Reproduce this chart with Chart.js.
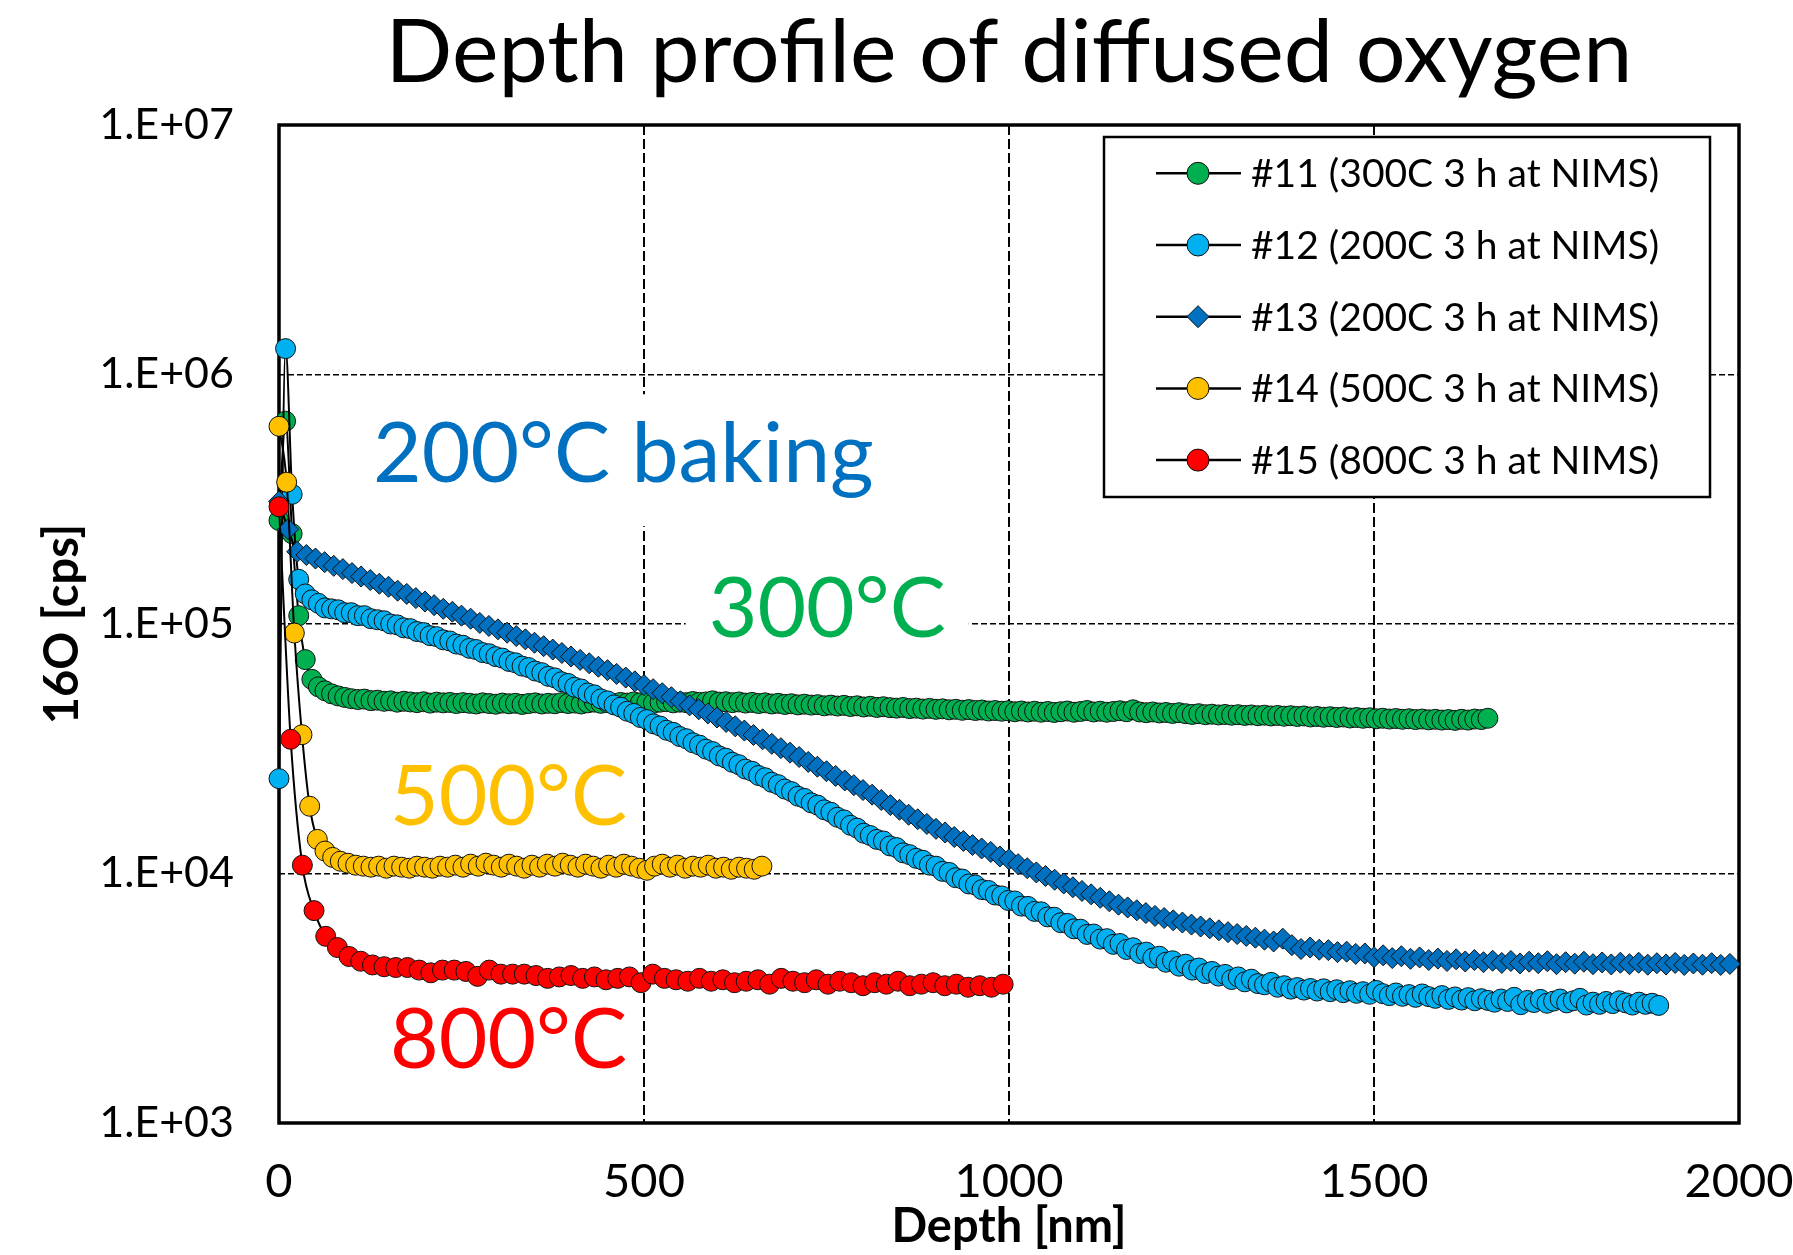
<!DOCTYPE html>
<html lang="en">
<head>
<meta charset="utf-8">
<title>Depth profile of diffused oxygen</title>
<script src="https://cdn.jsdelivr.net/npm/chart.js@4.4.1/dist/chart.umd.min.js"></script>
<style>
  html, body { margin: 0; padding: 0; background: #ffffff; }
  #box { width: 1793px; height: 1255px; }
</style>
</head>
<body>
<div id="box"><canvas id="chart" width="1793" height="1255"></canvas></div>
<script>
// ---------------- data ----------------
const chartTitle = 'Depth profile of diffused oxygen';
const xAxisTitle = 'Depth [nm]';
const yAxisTitle = '16O [cps]';

const seriesLabels = [
  '#11 (300C 3 h at NIMS)',
  '#12 (200C 3 h at NIMS)',
  '#13 (200C 3 h at NIMS)',
  '#14 (500C 3 h at NIMS)',
  '#15 (800C 3 h at NIMS)'
];

const noteTexts = ['200°C baking', '300°C', '500°C', '800°C'];

const xTickValues = [0, 500, 1000, 1500, 2000];
const xTickLabels = ['0', '500', '1000', '1500', '2000'];
const yTickValues = [1e3, 1e4, 1e5, 1e6, 1e7];
const yTickLabels = ['1.E+03', '1.E+04', '1.E+05', '1.E+06', '1.E+07'];

// depth grid [nm] shared by samples #11 and #12
const depthGrid9 = [
  0,9,18,27,36,45,54,63,72,81,
  90,99,108,117,126,135,144,153,162,171,
  180,189,198,207,216,225,234,243,252,261,
  270,279,288,297,306,315,324,333,342,351,
  360,369,378,387,396,405,414,423,432,441,
  450,459,468,477,486,495,504,513,522,531,
  540,549,558,567,576,585,594,603,612,621,
  630,639,648,657,666,675,684,693,702,711,
  720,729,738,747,756,765,774,783,792,801,
  810,819,828,837,846,855,864,873,882,891,
  900,909,918,927,936,945,954,963,972,981,
  990,999,1008,1017,1026,1035,1044,1053,1062,1071,
  1080,1089,1098,1107,1116,1125,1134,1143,1152,1161,
  1170,1179,1188,1197,1206,1215,1224,1233,1242,1251,
  1260,1269,1278,1287,1296,1305,1314,1323,1332,1341,
  1350,1359,1368,1377,1386,1395,1404,1413,1422,1431,
  1440,1449,1458,1467,1476,1485,1494,1503,1512,1521,
  1530,1539,1548,1557,1566,1575,1584,1593,1602,1611,
  1620,1629,1638,1647,1656,1665,1674,1683,1692,1701,
  1710,1719,1728,1737,1746,1755,1764,1773,1782,1791,
  1800,1809,1818,1827,1836,1845,1854,1863,1872,1881,
  1890
];

// #11 (300C) 16O counts [cps]
const o16Sample11 = [
  2.6e5,6.5e5,2.3e5,1.08e5,7.2e4,6.0e4,5.6e4,5.4e4,5.25e4,5.15e4,
  5.08e4,5.02e4,4.98e4,5.0e4,4.93e4,4.95e4,4.9e4,4.92e4,4.86e4,4.9e4,
  4.87e4,4.84e4,4.88e4,4.82e4,4.86e4,4.83e4,4.85e4,4.8e4,4.84e4,4.81e4,
  4.78e4,4.83e4,4.8e4,4.77e4,4.82e4,4.79e4,4.81e4,4.76e4,4.8e4,4.83e4,
  4.78e4,4.81e4,4.79e4,4.84e4,4.8e4,4.82e4,4.78e4,4.83e4,4.86e4,4.81e4,
  4.84e4,4.8e4,4.85e4,4.82e4,4.87e4,4.83e4,4.85e4,4.81e4,4.86e4,4.88e4,
  4.83e4,4.86e4,4.84e4,4.89e4,4.85e4,4.87e4,4.92e4,4.86e4,4.88e4,4.84e4,
  4.87e4,4.82e4,4.85e4,4.8e4,4.83e4,4.78e4,4.81e4,4.76e4,4.79e4,4.74e4,
  4.77e4,4.73e4,4.75e4,4.7e4,4.73e4,4.69e4,4.72e4,4.67e4,4.7e4,4.65e4,
  4.68e4,4.63e4,4.66e4,4.62e4,4.6e4,4.63e4,4.58e4,4.6e4,4.56e4,4.59e4,
  4.55e4,4.57e4,4.53e4,4.55e4,4.51e4,4.54e4,4.5e4,4.52e4,4.48e4,4.5e4,
  4.47e4,4.49e4,4.45e4,4.48e4,4.44e4,4.47e4,4.43e4,4.46e4,4.42e4,4.45e4,
  4.48e4,4.43e4,4.46e4,4.5e4,4.44e4,4.47e4,4.43e4,4.46e4,4.49e4,4.45e4,
  4.53e4,4.44e4,4.41e4,4.44e4,4.4e4,4.42e4,4.38e4,4.41e4,4.37e4,4.34e4,
  4.37e4,4.33e4,4.35e4,4.32e4,4.34e4,4.31e4,4.33e4,4.3e4,4.32e4,4.29e4,
  4.31e4,4.28e4,4.3e4,4.27e4,4.29e4,4.26e4,4.28e4,4.24e4,4.26e4,4.23e4,
  4.25e4,4.22e4,4.24e4,4.2e4,4.22e4,4.19e4,4.21e4,4.17e4,4.19e4,4.16e4,
  4.18e4,4.15e4,4.17e4,4.14e4,4.16e4,4.13e4,4.15e4,4.12e4,4.14e4,4.11e4,
  4.15e4,4.12e4,4.16e4,4.14e4,4.19e4
];

// #12 (200C) 16O counts [cps]
const o16Sample12 = [
  2.40e4,1.27e6,3.31e5,1.51e5,1.32e5,1.25e5,1.21e5,1.16e5,1.15e5,1.14e5,
  1.11e5,1.11e5,1.08e5,1.08e5,1.05e5,1.04e5,1.03e5,1.00e5,9.92e4,9.65e4,
  9.58e4,9.33e4,9.24e4,8.98e4,8.90e4,8.64e4,8.55e4,8.31e4,8.22e4,7.99e4,
  7.90e4,7.68e4,7.60e4,7.40e4,7.30e4,7.08e4,6.99e4,6.78e4,6.69e4,6.48e4,
  6.38e4,6.17e4,6.08e4,5.87e4,5.78e4,5.58e4,5.49e4,5.29e4,5.20e4,5.01e4,
  4.92e4,4.74e4,4.64e4,4.47e4,4.38e4,4.22e4,4.14e4,3.98e4,3.90e4,3.75e4,
  3.68e4,3.54e4,3.47e4,3.34e4,3.27e4,3.15e4,3.08e4,2.96e4,2.90e4,2.79e4,
  2.73e4,2.62e4,2.57e4,2.47e4,2.42e4,2.32e4,2.27e4,2.18e4,2.13e4,2.04e4,
  2.00e4,1.92e4,1.88e4,1.80e4,1.76e4,1.68e4,1.64e4,1.56e4,1.52e4,1.45e4,
  1.42e4,1.37e4,1.35e4,1.29e4,1.27e4,1.21e4,1.19e4,1.15e4,1.13e4,1.08e4,
  1.07e4,1.02e4,1.01e4,9.62e3,9.50e3,9.08e3,8.99e3,8.62e3,8.55e3,8.20e3,
  8.13e3,7.80e3,7.76e3,7.40e3,7.38e3,7.05e3,7.02e3,6.70e3,6.68e3,6.35e3,
  6.31e3,6.00e3,5.98e3,5.70e3,5.72e3,5.46e3,5.48e3,5.20e3,5.24e3,4.96e3,
  5.04e3,4.78e3,4.84e3,4.58e3,4.66e3,4.41e3,4.47e3,4.25e3,4.33e3,4.10e3,
  4.18e3,3.97e3,4.05e3,3.88e3,3.94e3,3.76e3,3.85e3,3.68e3,3.77e3,3.62e3,
  3.58e3,3.66e3,3.50e3,3.55e3,3.44e3,3.49e3,3.41e3,3.46e3,3.38e3,3.45e3,
  3.36e3,3.42e3,3.33e3,3.39e3,3.31e3,3.36e3,3.28e3,3.40e3,3.30e3,3.24e3,
  3.32e3,3.22e3,3.27e3,3.19e3,3.29e3,3.21e3,3.16e3,3.24e3,3.13e3,3.20e3,
  3.11e3,3.18e3,3.09e3,3.15e3,3.10e3,3.05e3,3.14e3,3.07e3,3.19e3,2.98e3,
  3.10e3,3.04e3,3.13e3,3.02e3,3.08e3,3.14e3,3.03e3,3.09e3,3.16e3,2.97e3,
  3.05e3,2.99e3,3.07e3,3.01e3,3.09e3,3.03e3,2.97e3,3.05e3,2.99e3,3.02e3,
  2.96e3
];

// #13 (200C) depth [nm] and 16O counts [cps]
const depthSample13 = [
  0,12.5,25,37.5,50,62.5,75,87.5,
  100,112.5,125,137.5,150,162.5,175,187.5,
  200,212.5,225,237.5,250,262.5,275,287.5,
  300,312.5,325,337.5,350,362.5,375,387.5,
  400,412.5,425,437.5,450,462.5,475,487.5,
  500,512.5,525,537.5,550,562.5,575,587.5,
  600,612.5,625,637.5,650,662.5,675,687.5,
  700,712.5,725,737.5,750,762.5,775,787.5,
  800,812.5,825,837.5,850,862.5,875,887.5,
  900,912.5,925,937.5,950,962.5,975,987.5,
  1000,1012.5,1025,1037.5,1050,1062.5,1075,1087.5,
  1100,1112.5,1125,1137.5,1150,1162.5,1175,1187.5,
  1200,1212.5,1225,1237.5,1250,1262.5,1275,1287.5,
  1300,1312.5,1325,1337.5,1350,1362.5,1375,1387.5,
  1400,1412.5,1425,1437.5,1450,1462.5,1475,1487.5,
  1500,1512.5,1525,1537.5,1550,1562.5,1575,1587.5,
  1600,1612.5,1625,1637.5,1650,1662.5,1675,1687.5,
  1700,1712.5,1725,1737.5,1750,1762.5,1775,1787.5,
  1800,1812.5,1825,1837.5,1850,1862.5,1875,1887.5,
  1900,1912.5,1925,1937.5,1950,1962.5,1975,1987.5
];
const o16Sample13 = [
  3.1e5,2.4e5,1.95e5,1.89e5,1.83e5,1.77e5,1.71e5,1.66e5,
  1.60e5,1.55e5,1.50e5,1.45e5,1.41e5,1.36e5,1.32e5,1.27e5,
  1.23e5,1.19e5,1.15e5,1.12e5,1.08e5,1.05e5,1.01e5,9.82e4,
  9.52e4,9.23e4,8.95e4,8.68e4,8.41e4,8.15e4,7.90e4,7.65e4,
  7.41e4,7.18e4,6.96e4,6.74e4,6.53e4,6.31e4,6.10e4,5.89e4,
  5.69e4,5.48e4,5.28e4,5.09e4,4.90e4,4.72e4,4.55e4,4.38e4,
  4.22e4,4.05e4,3.89e4,3.74e4,3.59e4,3.45e4,3.31e4,3.18e4,
  3.05e4,2.93e4,2.80e4,2.68e4,2.57e4,2.46e4,2.36e4,2.26e4,
  2.16e4,2.07e4,1.97e4,1.88e4,1.80e4,1.72e4,1.65e4,1.58e4,
  1.51e4,1.46e4,1.40e4,1.35e4,1.30e4,1.26e4,1.22e4,1.17e4,
  1.14e4,1.09e4,1.05e4,1.01e4,9.77e3,9.44e3,9.12e3,8.81e3,
  8.51e3,8.25e3,7.99e3,7.74e3,7.50e3,7.31e3,7.12e3,6.94e3,
  6.76e3,6.63e3,6.49e3,6.36e3,6.24e3,6.13e3,6.03e3,5.92e3,
  5.82e3,5.72e3,5.62e3,5.53e3,5.43e3,5.34e3,5.48e3,5.16e3,
  4.98e3,5.05e3,4.95e3,4.93e3,4.84e3,4.86e3,4.76e3,4.78e3,
  4.62e3,4.70e3,4.58e3,4.66e3,4.55e3,4.61e3,4.50e3,4.56e3,
  4.46e3,4.53e3,4.44e3,4.50e3,4.41e3,4.47e3,4.38e3,4.46e3,
  4.36e3,4.43e3,4.37e3,4.45e3,4.33e3,4.41e3,4.35e3,4.43e3,
  4.33e3,4.40e3,4.32e3,4.39e3,4.33e3,4.39e3,4.31e3,4.37e3,
  4.32e3,4.38e3,4.30e3,4.36e3,4.31e3,4.37e3,4.30e3,4.34e3
];

// #14 (500C) depth [nm] and 16O counts [cps]
const depthSample14 = [
  0,10.5,21,31.5,42,52.5,63,73.5,84,94.5,105,
  115.5,126,136.5,147,157.5,168,178.5,189,199.5,210,
  220.5,231,241.5,252,262.5,273,283.5,294,304.5,315,
  325.5,336,346.5,357,367.5,378,388.5,399,409.5,420,
  430.5,441,451.5,462,472.5,483,493.5,504,514.5,525,
  535.5,546,556.5,567,577.5,588,598.5,609,619.5,630,
  640.5,651,661.5
];
const o16Sample14 = [
  6.2e5,3.7e5,9.2e4,3.6e4,1.86e4,1.37e4,1.23e4,1.16e4,1.12e4,1.10e4,1.08e4,
  1.07e4,1.06e4,1.07e4,1.05e4,1.07e4,1.06e4,1.05e4,1.07e4,1.06e4,1.05e4,
  1.07e4,1.06e4,1.08e4,1.06e4,1.09e4,1.07e4,1.10e4,1.08e4,1.06e4,1.09e4,
  1.07e4,1.05e4,1.08e4,1.06e4,1.09e4,1.07e4,1.10e4,1.08e4,1.06e4,1.09e4,
  1.07e4,1.05e4,1.08e4,1.06e4,1.09e4,1.07e4,1.05e4,1.03e4,1.07e4,1.09e4,
  1.06e4,1.08e4,1.05e4,1.07e4,1.06e4,1.08e4,1.05e4,1.06e4,1.04e4,1.06e4,
  1.05e4,1.04e4,1.07e4
];

// #15 (800C) depth [nm] and 16O counts [cps]
const depthSample15 = [
  0,16,32,48,64,80,96,112,128,144,160,176,192,208,224,240,256,272,288,304,320,336,
  352,368,384,400,416,432,448,464,480,496,512,528,544,560,576,592,608,624,640,656,
  672,688,704,720,736,752,768,784,800,816,832,848,864,880,896,912,928,944,960,976,992
];
const o16Sample15 = [
  2.95e5,3.45e4,1.08e4,7.1e3,5.6e3,5.05e3,4.65e3,4.45e3,4.3e3,4.23e3,4.2e3,
  4.2e3,4.1e3,4.0e3,4.1e3,4.1e3,4.05e3,3.87e3,4.1e3,3.95e3,3.95e3,3.95e3,
  3.9e3,3.8e3,3.85e3,3.9e3,3.8e3,3.85e3,3.75e3,3.8e3,3.85e3,3.65e3,
  3.95e3,3.8e3,3.75e3,3.7e3,3.8e3,3.7e3,3.75e3,3.65e3,3.7e3,3.75e3,
  3.6e3,3.8e3,3.7e3,3.65e3,3.75e3,3.6e3,3.7e3,3.65e3,3.55e3,3.65e3,
  3.6e3,3.7e3,3.55e3,3.6e3,3.65e3,3.55e3,3.6e3,3.5e3,3.55e3,3.5e3,
  3.6e3
];

// ---------------- presentation ----------------
const FONT = 'Lato, "Open Sans", sans-serif';

function toPoints(depths, values) {
  return values.map((v, i) => ({ x: depths[i], y: v }));
}

const seriesData = [
  toPoints(depthGrid9, o16Sample11),
  toPoints(depthGrid9, o16Sample12),
  toPoints(depthSample13, o16Sample13),
  toPoints(depthSample14, o16Sample14),
  toPoints(depthSample15, o16Sample15)
];

const seriesLook = [
  { fill: '#00B050', shape: 'circle' },
  { fill: '#00B0F0', shape: 'circle' },
  { fill: '#0070C0', shape: 'rectRot' },
  { fill: '#FFC000', shape: 'circle' },
  { fill: '#FF0000', shape: 'circle' }
];

const MARKER_R = 10;

const datasets = seriesLabels.map((label, i) => ({
  label,
  data: seriesData[i],
  showLine: true,
  borderColor: '#000000',
  borderWidth: 2,
  tension: 0.3,
  cubicInterpolationMode: 'monotone',
  pointStyle: seriesLook[i].shape,
  pointRadius: seriesLook[i].shape === 'rectRot' ? MARKER_R + 0.5 : MARKER_R,
  pointBackgroundColor: seriesLook[i].fill,
  pointBorderColor: '#111111',
  pointBorderWidth: 1,
  order: seriesLabels.length - i,   // later samples are painted on top
  clip: false
}));

// call-out texts: anchored at the left end of their baseline, in data units
const noteLayout = [
  { depth: 128.7, value: 3.70e5, color: '#0070C0', size: 84, box: true },
  { depth: 588.6, value: 8.87e4, color: '#00B050', size: 84, box: true },
  { depth: 152,   value: 1.567e4, color: '#FFC000', size: 84, box: false },
  { depth: 152,   value: 1.667e3, color: '#FF0000', size: 84, box: false }
];

function drawMarker(ctx, shape, x, y, r) {
  ctx.beginPath();
  if (shape === 'rectRot') {
    ctx.moveTo(x, y - r);
    ctx.lineTo(x + r, y);
    ctx.lineTo(x, y + r);
    ctx.lineTo(x - r, y);
    ctx.closePath();
  } else {
    ctx.arc(x, y, r, 0, Math.PI * 2);
  }
  ctx.fill();
  ctx.stroke();
}

const decorations = {
  id: 'decorations',
  beforeDatasetsDraw(chart) {
    const { ctx, chartArea: a, scales } = chart;
    ctx.save();
    // call-out labels sit on white boxes that interrupt the grid
    noteLayout.forEach((n, i) => {
      const text = noteTexts[i];
      ctx.font = `${n.size}px ${FONT}`;
      const w = ctx.measureText(text).width;
      const x = scales.x.getPixelForValue(n.depth);
      const y = scales.y.getPixelForValue(n.value);
      if (n.box) {
        ctx.fillStyle = '#ffffff';
        ctx.fillRect(x - 23, y - 88, w + 46, 132);
      }
      ctx.fillStyle = n.color;
      ctx.textAlign = 'left';
      ctx.textBaseline = 'alphabetic';
      ctx.fillText(text, x, y);
    });
    // plot frame
    ctx.lineWidth = 3.5;
    ctx.strokeStyle = '#000000';
    ctx.strokeRect(a.left, a.top, a.right - a.left, a.bottom - a.top);
    ctx.restore();
  },
  afterDraw(chart) {
    const { ctx, chartArea: a } = chart;
    const cx = (a.left + a.right) / 2;
    ctx.save();
    ctx.fillStyle = '#000000';

    // chart title
    ctx.font = `88px ${FONT}`;
    ctx.textAlign = 'center';
    ctx.textBaseline = 'alphabetic';
    ctx.fillText(chartTitle, cx, 82);

    // axis titles
    ctx.font = `bold 47px ${FONT}`;
    ctx.fillText(xAxisTitle, cx, 1242);
    ctx.save();
    ctx.translate(63, (a.top + a.bottom) / 2);
    ctx.rotate(-Math.PI / 2);
    ctx.textBaseline = 'middle';
    ctx.fillText(yAxisTitle, 0, 0);
    ctx.restore();

    // legend box
    const L = { left: a.right - 635, top: a.top + 12, width: 606, height: 360 };
    ctx.fillStyle = '#ffffff';
    ctx.fillRect(L.left, L.top, L.width, L.height);
    ctx.lineWidth = 2.5;
    ctx.strokeStyle = '#000000';
    ctx.strokeRect(L.left, L.top, L.width, L.height);

    ctx.font = `39px ${FONT}`;
    ctx.textAlign = 'left';
    ctx.textBaseline = 'alphabetic';
    seriesLabels.forEach((label, i) => {
      const y = L.top + 36.3 + i * 71.7;
      ctx.strokeStyle = '#000000';
      ctx.lineWidth = 2.5;
      ctx.beginPath();
      ctx.moveTo(L.left + 52, y);
      ctx.lineTo(L.left + 137, y);
      ctx.stroke();
      ctx.fillStyle = seriesLook[i].fill;
      ctx.strokeStyle = '#111111';
      ctx.lineWidth = 1;
      drawMarker(ctx, seriesLook[i].shape, L.left + 94, y, 11);
      ctx.fillStyle = '#000000';
      ctx.fillText(label, L.left + 147, y + 14);
    });
    ctx.restore();
  }
};

new Chart(document.getElementById('chart'), {
  type: 'scatter',
  data: { datasets },
  options: {
    responsive: false,
    devicePixelRatio: 1,
    animation: false,
    events: [],
    layout: { padding: { top: 125, right: 54, left: 0, bottom: 0 } },
    plugins: {
      legend: { display: false },
      tooltip: { enabled: false },
      title: { display: false }
    },
    scales: {
      x: {
        type: 'linear',
        min: 0,
        max: 2000,
        afterBuildTicks: s => { s.ticks = xTickValues.map(v => ({ value: v })); },
        afterFit: s => { s.height = 132; s.paddingLeft = 0; s.paddingRight = 0; },
        ticks: {
          color: '#000000',
          font: { family: FONT, size: 47 },
          padding: 31,
          maxRotation: 0,
          autoSkip: false,
          callback: v => xTickLabels[xTickValues.indexOf(v)]
        },
        grid: { color: '#000000', lineWidth: 2, drawTicks: false },
        border: { display: false, dash: [10, 4] }
      },
      y: {
        type: 'logarithmic',
        min: 1e3,
        max: 1e7,
        afterBuildTicks: s => { s.ticks = yTickValues.map(v => ({ value: v })); },
        afterFit: s => { s.width = 279; },
        ticks: {
          color: '#000000',
          font: { family: FONT, size: 43 },
          padding: 45,
          autoSkip: false,
          callback: v => yTickLabels[yTickValues.indexOf(v)]
        },
        grid: { color: '#000000', lineWidth: 1.5, drawTicks: false },
        border: { display: false, dash: [6, 3] }
      }
    }
  },
  plugins: [decorations]
});
</script>
</body>
</html>
